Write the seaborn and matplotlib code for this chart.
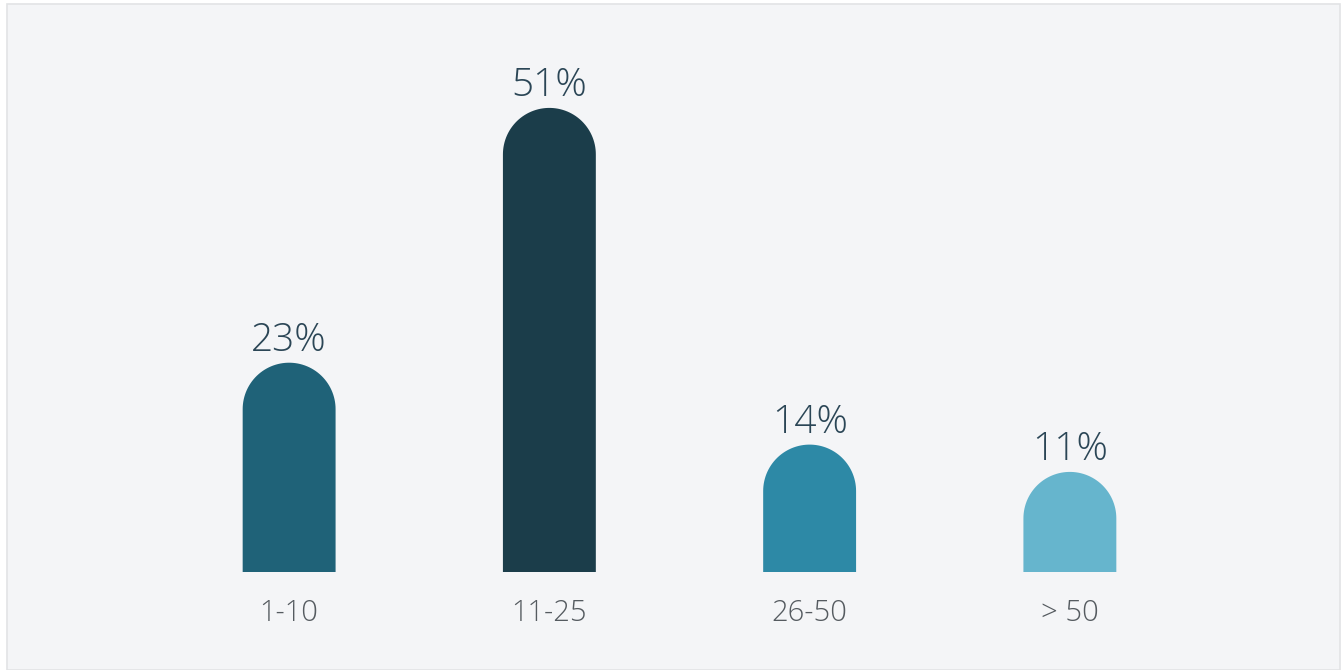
import matplotlib
matplotlib.use("Agg")
import matplotlib.pyplot as plt
import seaborn as sns
import pandas as pd
import numpy as np
from matplotlib.patches import Rectangle, Polygon

# data
categories = ["1-10", "11-25", "26-50", "> 50"]
shares = [23, 51, 14, 11]
bar_colors = ["#1f6278", "#1b3d4a", "#2d89a6", "#66b5cd"]

df = pd.DataFrame({"group": categories, "share": shares})

sns.set_theme(style="white")
plt.rcParams["font.family"] = ["Open Sans", "DejaVu Sans"]

W, H = 1343, 670
fig = plt.figure(figsize=(W / 100, H / 100), dpi=100)
fig.patch.set_facecolor("white")

# light panel behind the chart
fig.patches.append(Rectangle((7 / W, 0), 1333 / W, 666 / H, transform=fig.transFigure,
                             facecolor="#f4f5f7", edgecolor="#e2e3e5", lw=1.2, zorder=0))

ax_w, ax_h = 1041, 513
ymax = ax_h / 9.1
ax = fig.add_axes([159 / W, 98 / H, ax_w / W, ax_h / H])
ax.set_facecolor("none")
ax.set_zorder(2)

sns.barplot(data=df, x="group", y="share", hue="group", palette=bar_colors,
            width=0.357, legend=False, ax=ax)
ax.set_xlim(-0.5, 3.5)
ax.set_ylim(0, ymax)

# px per data unit, used to turn the bar tops into half circles
px_x = ax_w / 4.0
px_y = ax_h / ymax
t = np.linspace(0, np.pi, 60)

for p, val, col in zip(ax.patches, shares, bar_colors):
    x0, w = p.get_x(), p.get_width()
    p.set_visible(False)
    cx = x0 + w / 2
    r_y = (w * px_x / 2) / px_y
    arc = np.column_stack([cx + (w / 2) * np.cos(t), (val - r_y) + r_y * np.sin(t)])
    pts = np.vstack([[x0 + w, 0], arc, [x0, 0]])
    ax.add_patch(Polygon(pts, closed=True, facecolor=col, edgecolor="none"))
    ax.annotate(f"{val}%", (cx, val), xytext=(0, 8.5), textcoords="offset points",
                ha="center", va="baseline", fontsize=28, fontweight="light", color="#2b4656")

sns.despine(ax=ax, left=True, bottom=True)
ax.set_xlabel("")
ax.set_ylabel("")
ax.set_yticks([])
ax.tick_params(axis="x", length=0, pad=19, labelsize=21, labelcolor="#555b60")
for lab in ax.get_xticklabels():
    lab.set_fontweight("light")

fig.savefig("out.png", dpi=100)
